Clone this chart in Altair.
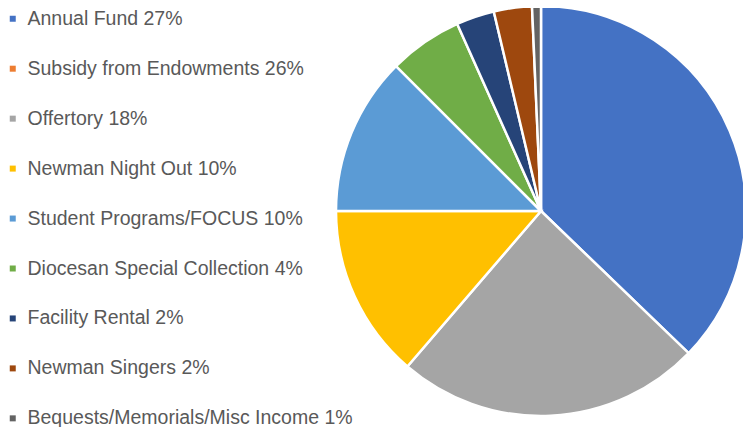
import altair as alt
import pandas as pd

categories = ["Annual Fund", "Subsidy from Endowments", "Offertory", "Newman Night Out",
              "Student Programs/FOCUS", "Diocesan Special Collection", "Facility Rental",
              "Newman Singers", "Bequests/Memorials/Misc Income"]
legend_pcts = [27, 26, 18, 10, 10, 4, 2, 2, 1]
# slice sizes (subsidy slice is not drawn)
slice_values = [37.2, 0.0, 24.1, 13.7, 12.5, 5.8, 3.0, 3.0, 0.7]
colors = ["#4472C4", "#ED7D31", "#A5A5A5", "#FFC000", "#5B9BD5", "#70AD47",
          "#264478", "#9E480E", "#636363"]

labels = [f"{c} {p}%" for c, p in zip(categories, legend_pcts)]
df = pd.DataFrame({"label": labels, "value": slice_values, "order": list(range(len(labels)))})
df = df[df["value"] > 0]

chart = alt.Chart(df).mark_arc(radius=205, stroke="white", strokeWidth=2.5).encode(
    theta=alt.Theta("value:Q", stack=True),
    order=alt.Order("order:Q"),
    x=alt.value(533),
    y=alt.value(203),
    color=alt.Color(
        "label:N",
        scale=alt.Scale(domain=labels, range=colors),
        sort=labels,
        legend=alt.Legend(
            title=None,
            orient="none",
            legendX=-5,
            legendY=1,
            symbolType="square",
            symbolSize=36,
            symbolStrokeWidth=0,
            labelFontSize=19.5,
            labelFont="Liberation Sans",
            labelColor="#595959",
            labelOffset=5,
            rowPadding=28.95,
            padding=0,
            labelLimit=400,
        ),
    ),
).properties(
    width=735, height=419, autosize=alt.AutoSizeParams(type="none"), padding=0
).configure_view(stroke=None)

chart.save("out.html", embed_options={"renderer": "svg", "actions": False})
